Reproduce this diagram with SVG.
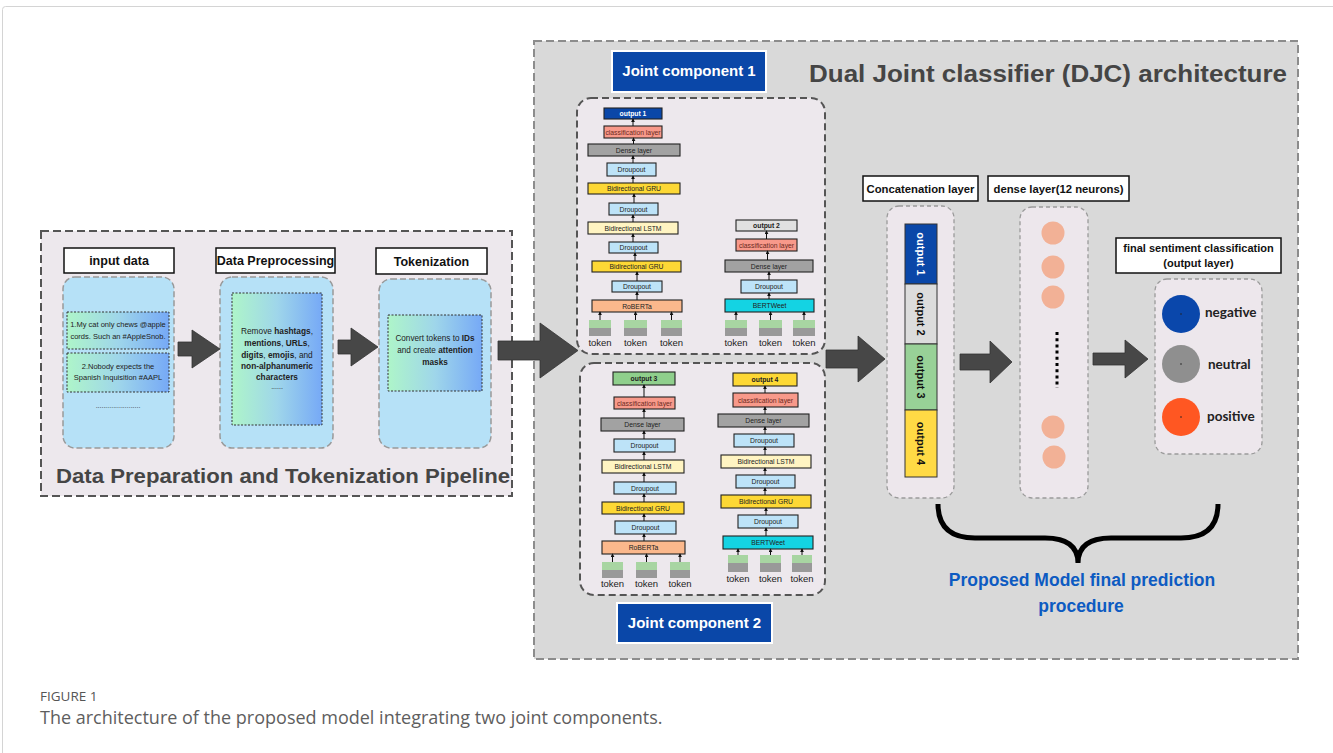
<svg xmlns="http://www.w3.org/2000/svg" width="1333" height="753" viewBox="0 0 1333 753">
  <defs>
    <linearGradient id="mint" x1="0" y1="0" x2="1" y2="0">
      <stop offset="0" stop-color="#aef5c9"/>
      <stop offset="0.5" stop-color="#9fd6ea"/>
      <stop offset="1" stop-color="#76a9f6"/>
    </linearGradient>
    <marker id="tip" markerWidth="4" markerHeight="4" refX="3.2" refY="2" orient="auto" markerUnits="userSpaceOnUse">
      <path d="M0,0 L4,2 L0,4 z" fill="#111"/>
    </marker>
    <style>
      text { font-family: "Liberation Sans", Arial, sans-serif; }
      .frame { fill: #d9d9d9; stroke: #8c8c8c; stroke-width: 2; stroke-dasharray: 8 4; }
      .pipe { fill: #ede8ed; stroke: #555; stroke-width: 2; stroke-dasharray: 8 4; }
      .jc { fill: #ede8ed; stroke: #555; stroke-width: 2; stroke-dasharray: 7 4; }
      .panel { fill: #b6e1f7; stroke: #999; stroke-width: 1.5; stroke-dasharray: 6 3; }
      .soft { fill: #ede7ec; stroke: #9a9a9a; stroke-width: 1.3; stroke-dasharray: 4 3; }
      .inner { fill: url(#mint); stroke: #333; stroke-width: 1; stroke-dasharray: 2 1.5; }
      .hdr { fill: #fff; stroke: #111; stroke-width: 1.5; }
      .hdrt { font-size: 12.5px; font-weight: bold; fill: #111; text-anchor: middle; }
      .big { fill: #454545; }
      .b { stroke: #222; stroke-width: 1.1; }
      .l { font-size: 6.8px; fill: #222; text-anchor: middle; dominant-baseline: central; }
      .lb { font-size: 6.8px; font-weight: bold; fill: #222; text-anchor: middle; dominant-baseline: central; }
      .out1 { fill: #0a47a8; }
      .cls { fill: #f8998a; }
      .dense { fill: #a2a2a2; }
      .drop { fill: #bde3f8; }
      .gru { fill: #fdd835; }
      .lstm { fill: #fff4c2; }
      .rob { fill: #fbb88c; }
      .bert { fill: #14d3e3; }
      .tg { fill: #a8d5a2; }
      .tk { fill: #999; }
      .tok { font-size: 9.5px; fill: #222; text-anchor: middle; }
      .up { stroke: #111; stroke-width: 1; marker-end: url(#tip); }
      .blk { fill: #474747; stroke: #333; stroke-width: 0.8; }
      .it { font-size: 7.5px; fill: #222; text-anchor: middle; }
      .seg { stroke: #333; stroke-width: 1; }
      .segt { font-size: 11px; font-weight: bold; text-anchor: middle; dominant-baseline: central; }
      .neu { fill: #f2b196; }
      .cl { font-family: Lato, "Noto Sans", sans-serif; font-size: 13.5px; font-weight: bold; fill: #222; }
      .jlab { fill: #0a47a8; stroke: #fff; stroke-width: 2; }
      .jlabt { font-size: 15px; font-weight: bold; fill: #fff; text-anchor: middle; }
      .cap { font-family: "Open Sans", "Noto Sans", sans-serif; }
    </style>
  </defs>

  <rect width="1333" height="753" fill="#fff"/>
  <rect x="2.5" y="6.5" width="1340" height="760" rx="3" fill="none" stroke="#d4d4d4" stroke-width="1"/>

  <!-- Dual joint classifier frame -->
  <g id="djc-frame">
    <rect class="frame" x="534" y="41" width="764" height="618"/>
    <text x="809" y="82" font-size="23" font-weight="bold" class="big" textLength="478" lengthAdjust="spacingAndGlyphs">Dual Joint classifier (DJC) architecture</text>
  </g>

  <!-- Data preparation pipeline -->
  <g id="pipeline">
    <rect class="pipe" x="41" y="231" width="471" height="265"/>
    <text x="56" y="483" font-size="21" font-weight="bold" class="big" textLength="454" lengthAdjust="spacingAndGlyphs">Data Preparation and Tokenization Pipeline</text>
  </g>

  <g id="input-data">
    <rect class="hdr" x="64" y="248" width="110" height="25"/>
    <text class="hdrt" x="119" y="265">input data</text>
    <rect class="panel" x="63" y="277" width="111" height="171" rx="12"/>
    <rect class="inner" x="67" y="312" width="102" height="37"/>
    <text class="it" x="118" y="327">1.My cat only chews @apple</text>
    <text class="it" x="118" y="339">cords. Such an #AppleSnob.</text>
    <rect class="inner" x="67" y="353" width="102" height="39"/>
    <text class="it" x="118" y="369">2.Nobody expects the</text>
    <text class="it" x="118" y="380">Spanish Inquisition #AAPL</text>
    <text x="118" y="408" font-size="7" fill="#333" text-anchor="middle">.......................</text>
  </g>

  <g id="preprocessing">
    <rect class="hdr" x="216" y="248" width="119" height="25"/>
    <text class="hdrt" x="275.5" y="265">Data Preprocessing</text>
    <rect class="panel" x="220" y="277" width="113" height="171" rx="12"/>
    <rect class="inner" x="232" y="293" width="90" height="132"/>
    <g font-size="8.3" fill="#222" text-anchor="middle">
      <text x="277" y="334">Remove <tspan font-weight="bold">hashtags</tspan>,</text>
      <text x="277" y="346"><tspan font-weight="bold">mentions</tspan>, <tspan font-weight="bold">URLs</tspan>,</text>
      <text x="277" y="358"><tspan font-weight="bold">digits</tspan>, <tspan font-weight="bold">emojis</tspan>, and</text>
      <text x="277" y="369" font-weight="bold">non-alphanumeric</text>
      <text x="277" y="380" font-weight="bold">characters</text>
      <text x="277" y="389" font-size="7">......</text>
    </g>
  </g>

  <g id="tokenization">
    <rect class="hdr" x="376" y="248" width="111" height="26"/>
    <text class="hdrt" x="431.5" y="265.5">Tokenization</text>
    <rect class="panel" x="379" y="279" width="112" height="169" rx="12"/>
    <rect class="inner" x="388" y="315" width="94" height="76"/>
    <g font-size="8.2" fill="#222" text-anchor="middle">
      <text x="435" y="341">Convert tokens to <tspan font-weight="bold">IDs</tspan></text>
      <text x="435" y="353">and create <tspan font-weight="bold">attention</tspan></text>
      <text x="435" y="365" font-weight="bold">masks</text>
    </g>
  </g>

  <!-- Joint component 1 -->
  <g id="joint-component-1">
    <rect class="jc" x="577" y="98" width="248" height="256" rx="14"/>
    <rect class="jlab" x="612" y="51" width="154" height="41"/>
    <text class="jlabt" x="689" y="76">Joint component 1</text>

    <rect class="b out1" x="604" y="108" width="58" height="11"/>
    <text class="lb" x="633" y="113.5" style="fill:#fff">output 1</text>
    <rect class="b cls" x="604" y="126" width="58" height="12"/>
    <text class="l" x="633" y="132" style="fill:#6b2a22">classification layer</text>
    <rect class="b dense" x="588" y="144" width="92" height="12"/>
    <text class="l" x="634" y="150">Dense layer</text>
    <rect class="b drop" x="607" y="163" width="49" height="13"/>
    <text class="l" x="631.5" y="169.5">Droupout</text>
    <rect class="b gru" x="588" y="183" width="92" height="11"/>
    <text class="l" x="634" y="188.5">Bidirectional GRU</text>
    <rect class="b drop" x="609" y="203" width="49" height="12"/>
    <text class="l" x="633.5" y="209">Droupout</text>
    <rect class="b lstm" x="588" y="222" width="90" height="12"/>
    <text class="l" x="633" y="228">Bidirectional LSTM</text>
    <rect class="b drop" x="609" y="242" width="49" height="11"/>
    <text class="l" x="633.5" y="247.5">Droupout</text>
    <rect class="b gru" x="592" y="261" width="89" height="11"/>
    <text class="l" x="636.5" y="266.5">Bidirectional GRU</text>
    <rect class="b drop" x="612" y="281" width="50" height="11"/>
    <text class="l" x="637" y="286.5">Droupout</text>
    <rect class="b rob" x="592" y="300" width="90" height="12"/>
    <text class="l" x="637" y="306">RoBERTa</text>

    <rect class="tg" x="589" y="320" width="22" height="8"/><rect class="tk" x="589" y="328" width="22" height="8"/>
    <rect class="tg" x="624" y="320" width="23" height="8"/><rect class="tk" x="624" y="328" width="23" height="8"/>
    <rect class="tg" x="661" y="320" width="21" height="8"/><rect class="tk" x="661" y="328" width="21" height="8"/>
    <text class="tok" x="600" y="346">token</text>
    <text class="tok" x="635.5" y="346">token</text>
    <text class="tok" x="671.5" y="346">token</text>

    <rect class="b" x="736" y="220" width="61" height="11" fill="#e0e0e0"/>
    <text class="lb" x="766.5" y="225.5">output 2</text>
    <rect class="b cls" x="736" y="239" width="61" height="12"/>
    <text class="l" x="766.5" y="245" style="fill:#6b2a22">classification layer</text>
    <rect class="b dense" x="725" y="260" width="88" height="12"/>
    <text class="l" x="769" y="266">Dense layer</text>
    <rect class="b drop" x="741" y="280" width="56" height="13"/>
    <text class="l" x="769" y="286.5">Droupout</text>
    <rect class="b bert" x="725" y="299" width="89" height="13"/>
    <text class="l" x="769.5" y="305.5">BERTWeet</text>

    <rect class="tg" x="725" y="320" width="22" height="8"/><rect class="tk" x="725" y="328" width="22" height="8"/>
    <rect class="tg" x="759" y="320" width="23" height="8"/><rect class="tk" x="759" y="328" width="23" height="8"/>
    <rect class="tg" x="793" y="320" width="22" height="8"/><rect class="tk" x="793" y="328" width="22" height="8"/>
    <text class="tok" x="736" y="346">token</text>
    <text class="tok" x="770.5" y="346">token</text>
    <text class="tok" x="804" y="346">token</text>
  </g>

  <!-- Joint component 2 -->
  <g id="joint-component-2">
    <rect class="jc" x="580" y="363" width="245" height="232" rx="14"/>
    <rect class="jlab" x="617" y="603" width="155" height="40"/>
    <text class="jlabt" x="694.5" y="628">Joint component 2</text>

    <rect class="b" x="613" y="372" width="62" height="13" fill="#8fcf8c"/>
    <text class="lb" x="644" y="378.5">output 3</text>
    <rect class="b cls" x="614" y="397" width="61" height="12"/>
    <text class="l" x="644.5" y="403" style="fill:#6b2a22">classification layer</text>
    <rect class="b dense" x="601" y="418" width="83" height="13"/>
    <text class="l" x="642.5" y="424.5">Dense layer</text>
    <rect class="b drop" x="614" y="439" width="61" height="13"/>
    <text class="l" x="644.5" y="445.5">Droupout</text>
    <rect class="b lstm" x="602" y="460" width="82" height="13"/>
    <text class="l" x="643" y="466.5">Bidirectional LSTM</text>
    <rect class="b drop" x="614" y="482" width="62" height="12"/>
    <text class="l" x="645" y="488">Droupout</text>
    <rect class="b gru" x="602" y="502" width="82" height="12"/>
    <text class="l" x="643" y="508">Bidirectional GRU</text>
    <rect class="b drop" x="615" y="521" width="61" height="13"/>
    <text class="l" x="645.5" y="527.5">Droupout</text>
    <rect class="b rob" x="602" y="541" width="83" height="13"/>
    <text class="l" x="643.5" y="547.5">RoBERTa</text>

    <rect class="tg" x="602" y="562" width="21" height="8"/><rect class="tk" x="602" y="570" width="21" height="8"/>
    <rect class="tg" x="636" y="562" width="21" height="8"/><rect class="tk" x="636" y="570" width="21" height="8"/>
    <rect class="tg" x="670" y="562" width="20" height="8"/><rect class="tk" x="670" y="570" width="20" height="8"/>
    <text class="tok" x="612.5" y="587">token</text>
    <text class="tok" x="646.5" y="587">token</text>
    <text class="tok" x="680" y="587">token</text>

    <rect class="b gru" x="733" y="373" width="64" height="13"/>
    <text class="lb" x="765" y="379.5">output 4</text>
    <rect class="b cls" x="733" y="393" width="65" height="14"/>
    <text class="l" x="765.5" y="400" style="fill:#6b2a22">classification layer</text>
    <rect class="b dense" x="718" y="414" width="91" height="13"/>
    <text class="l" x="763.5" y="420.5">Dense layer</text>
    <rect class="b drop" x="734" y="434" width="60" height="13"/>
    <text class="l" x="764" y="440.5">Droupout</text>
    <rect class="b lstm" x="721" y="455" width="90" height="13"/>
    <text class="l" x="766" y="461.5">Bidirectional LSTM</text>
    <rect class="b drop" x="736" y="475" width="59" height="13"/>
    <text class="l" x="765.5" y="481.5">Droupout</text>
    <rect class="b gru" x="721" y="495" width="90" height="13"/>
    <text class="l" x="766" y="501.5">Bidirectional GRU</text>
    <rect class="b drop" x="738" y="515" width="60" height="13"/>
    <text class="l" x="768" y="521.5">Droupout</text>
    <rect class="b bert" x="723" y="536" width="90" height="13"/>
    <text class="l" x="768" y="542.5">BERTWeet</text>

    <rect class="tg" x="728" y="555" width="20" height="8"/><rect class="tk" x="728" y="563" width="20" height="9"/>
    <rect class="tg" x="760" y="555" width="21" height="8"/><rect class="tk" x="760" y="563" width="21" height="9"/>
    <rect class="tg" x="792" y="555" width="20" height="8"/><rect class="tk" x="792" y="563" width="20" height="9"/>
    <text class="tok" x="738" y="582">token</text>
    <text class="tok" x="770.5" y="582">token</text>
    <text class="tok" x="802" y="582">token</text>
  </g>

  <!-- Concatenation layer -->
  <g id="concatenation">
    <rect class="hdr" x="863" y="176" width="115" height="25"/>
    <text class="hdrt" x="920.5" y="193" style="font-size:11.3px">Concatenation layer</text>
    <rect class="soft" x="887" y="206" width="67" height="292" rx="12"/>
    <rect class="seg" x="905" y="224" width="32" height="60" fill="#0a47a8"/>
    <rect class="seg" x="905" y="284" width="32" height="60" fill="#dcdcdc"/>
    <rect class="seg" x="905" y="344" width="32" height="66" fill="#98d197"/>
    <rect class="seg" x="905" y="410" width="32" height="67" fill="#ffda45"/>
    <text class="segt" transform="translate(921 254) rotate(90)" fill="#fff">output 1</text>
    <text class="segt" transform="translate(921 314) rotate(90)" fill="#111">output 2</text>
    <text class="segt" transform="translate(921 377) rotate(90)" fill="#111">output 3</text>
    <text class="segt" transform="translate(921 443.5) rotate(90)" fill="#111">output 4</text>
  </g>

  <!-- Dense layer -->
  <g id="dense-layer">
    <rect class="hdr" x="988" y="176" width="141" height="25"/>
    <text class="hdrt" x="1058.5" y="193" style="font-size:11.3px">dense layer(12 neurons)</text>
    <rect class="soft" x="1020" y="207" width="68" height="291" rx="12"/>
    <circle class="neu" cx="1053" cy="233" r="11.5"/>
    <circle class="neu" cx="1053" cy="267" r="11.5"/>
    <circle class="neu" cx="1053" cy="297" r="11.5"/>
    <line x1="1057" y1="332" x2="1057" y2="388" stroke="#000" stroke-width="3" stroke-dasharray="3 3.2"/>
    <circle class="neu" cx="1053" cy="427" r="11.5"/>
    <circle class="neu" cx="1054" cy="457" r="11.5"/>
  </g>

  <!-- Final sentiment classification -->
  <g id="final-output">
    <rect class="hdr" x="1116" y="238" width="165" height="35"/>
    <text class="hdrt" x="1198.5" y="251.5" style="font-size:11px">final sentiment classification</text>
    <text class="hdrt" x="1198.5" y="267" style="font-size:11px">(output layer)</text>
    <rect class="soft" x="1155" y="279" width="107" height="175" rx="12"/>
    <circle cx="1181" cy="314" r="19" fill="#0a47ab"/>
    <circle cx="1181" cy="314" r="0.8" fill="#222"/>
    <circle cx="1181" cy="364" r="19" fill="#8f8f8f"/>
    <circle cx="1181" cy="364" r="0.8" fill="#222"/>
    <circle cx="1181" cy="417" r="19" fill="#ff5722"/>
    <circle cx="1181" cy="417" r="0.8" fill="#222"/>
    <text class="cl" x="1205" y="317">negative</text>
    <text class="cl" x="1208" y="369">neutral</text>
    <text class="cl" x="1207" y="421">positive</text>
  </g>

  <!-- Connectors -->
  <g id="connectors">
    <line class="up" x1="633" y1="126" x2="633" y2="119"/>
    <line class="up" x1="633.5" y1="144" x2="633.5" y2="138"/>
    <line class="up" x1="633" y1="163" x2="633" y2="156"/>
    <line class="up" x1="633" y1="183" x2="633" y2="176"/>
    <line class="up" x1="634" y1="203" x2="634" y2="194"/>
    <line class="up" x1="633" y1="222" x2="633" y2="215"/>
    <line class="up" x1="633" y1="242" x2="633" y2="234"/>
    <line class="up" x1="635" y1="261" x2="635" y2="253"/>
    <line class="up" x1="637" y1="281" x2="637" y2="272"/>
    <line class="up" x1="637" y1="300" x2="637" y2="292"/>
    <line class="up" x1="600" y1="320" x2="600" y2="312"/>
    <line class="up" x1="635.5" y1="320" x2="635.5" y2="312"/>
    <line class="up" x1="671.5" y1="320" x2="671.5" y2="312"/>

    <line class="up" x1="766.5" y1="239" x2="766.5" y2="231"/>
    <line class="up" x1="767.5" y1="260" x2="767.5" y2="251"/>
    <line class="up" x1="769" y1="280" x2="769" y2="272"/>
    <line class="up" x1="769" y1="299" x2="769" y2="293"/>
    <line class="up" x1="736" y1="320" x2="736" y2="312"/>
    <line class="up" x1="770.5" y1="320" x2="770.5" y2="312"/>
    <line class="up" x1="804" y1="320" x2="804" y2="312"/>

    <line class="up" x1="644" y1="397" x2="644" y2="385"/>
    <line class="up" x1="644" y1="418" x2="644" y2="409"/>
    <line class="up" x1="644" y1="439" x2="644" y2="431"/>
    <line class="up" x1="644" y1="460" x2="644" y2="452"/>
    <line class="up" x1="644" y1="482" x2="644" y2="473"/>
    <line class="up" x1="644" y1="502" x2="644" y2="494"/>
    <line class="up" x1="644" y1="521" x2="644" y2="514"/>
    <line class="up" x1="644" y1="541" x2="644" y2="534"/>
    <line class="up" x1="612.5" y1="562" x2="612.5" y2="554"/>
    <line class="up" x1="646.5" y1="562" x2="646.5" y2="554"/>
    <line class="up" x1="680" y1="562" x2="680" y2="554"/>

    <line class="up" x1="765" y1="393" x2="765" y2="386"/>
    <line class="up" x1="765" y1="414" x2="765" y2="407"/>
    <line class="up" x1="765" y1="434" x2="765" y2="427"/>
    <line class="up" x1="765" y1="455" x2="765" y2="447"/>
    <line class="up" x1="765" y1="475" x2="765" y2="468"/>
    <line class="up" x1="765" y1="495" x2="765" y2="488"/>
    <line class="up" x1="766" y1="515" x2="766" y2="508"/>
    <line class="up" x1="766" y1="536" x2="766" y2="528"/>
    <line class="up" x1="738" y1="555" x2="738" y2="549"/>
    <line class="up" x1="770.5" y1="555" x2="770.5" y2="549"/>
    <line class="up" x1="802" y1="555" x2="802" y2="549"/>

    <!-- block arrows between stages -->
    <polygon class="blk" points="178,342 192,342 192,330 220,349 192,368 192,356 178,356"/>
    <polygon class="blk" points="338,340 351,340 351,328 378,347 351,366 351,354 338,354"/>
    <polygon class="blk" points="498,341 540,341 540,323 578,350.5 540,378 540,360 498,360"/>
    <polygon class="blk" points="826,350 858,350 858,336 885,359 858,382 858,368 826,368"/>
    <polygon class="blk" points="960,354 990,354 990,341 1012,362 990,383 990,370 960,370"/>
    <polygon class="blk" points="1093,353 1125,353 1125,340 1148,359 1125,378 1125,365 1093,365"/>

    <path d="M938,504 Q938,538 975,538 L1045,538 Q1078,538 1078,563 Q1078,538 1111,538 L1181,538 Q1218,538 1218,504" fill="none" stroke="#000" stroke-width="5"/>
  </g>

  <g id="prediction-label" font-size="17.5" font-weight="bold" fill="#0d5bc2" text-anchor="middle">
    <text x="1082" y="586">Proposed Model final prediction</text>
    <text x="1081" y="612">procedure</text>
  </g>

  <g id="caption">
    <text class="cap" x="40" y="701" font-size="13.5" fill="#555">FIGURE 1</text>
    <text class="cap" x="40" y="724" font-size="18" fill="#5e5e5e">The architecture of the proposed model integrating two joint components.</text>
  </g>
</svg>
